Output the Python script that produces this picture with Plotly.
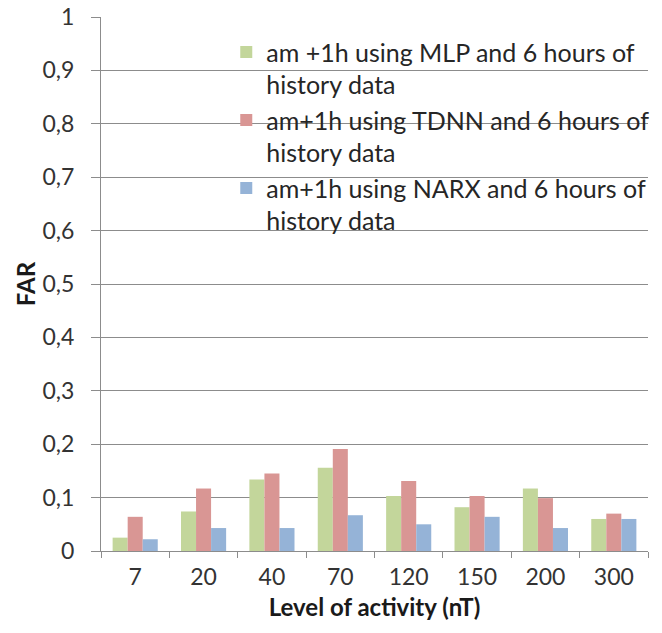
import plotly.graph_objects as go

categories = ["7", "20", "40", "70", "120", "150", "200", "300"]
mlp = [0.025, 0.074, 0.134, 0.156, 0.103, 0.082, 0.117, 0.060]
tdnn = [0.064, 0.117, 0.145, 0.191, 0.131, 0.103, 0.099, 0.070]
narx = [0.022, 0.043, 0.043, 0.067, 0.050, 0.064, 0.043, 0.060]
series_names = [
    "am +1h using MLP and 6 hours of<br>history data",
    "am+1h using TDNN and 6 hours of<br>history data",
    "am+1h using NARX and 6 hours of<br>history data",
]
colors = ["#C3D69B", "#D99694", "#95B3D7"]
y_tickvals = [0, 0.1, 0.2, 0.3, 0.4, 0.5, 0.6, 0.7, 0.8, 0.9, 1.0]
y_ticktext = ["0", "0,1", "0,2", "0,3", "0,4", "0,5", "0,6", "0,7", "0,8", "0,9", "1"]

FONT = "Lato"
grid = "#8c8c8c"

fig = go.Figure()
for name, vals, col in zip(series_names, [mlp, tdnn, narx], colors):
    fig.add_trace(go.Bar(x=categories, y=vals, name=name, marker_color=col,
                         marker_line_width=0))

fig.update_layout(
    width=662, height=633,
    margin=dict(l=101, r=14, t=17, b=82, autoexpand=False),
    plot_bgcolor="white", paper_bgcolor="white",
    bargap=0.34, bargroupgap=0,
    font=dict(family=FONT, color="#333333", size=22),
    legend=dict(x=0.229, y=0.977, xanchor="left", yanchor="top", valign="top",
                bgcolor="rgba(0,0,0,0)", font=dict(size=25, color="#262626"),
                tracegroupgap=0, itemwidth=30),
    showlegend=True,
)
fig.update_yaxes(range=[0, 1], tickvals=y_tickvals, ticktext=y_ticktext,
                 automargin=False,
                 showgrid=True, gridcolor=grid, gridwidth=1,
                 showline=True, linecolor=grid, linewidth=1,
                 ticks="outside", ticklen=9, tickcolor=grid,
                 zeroline=False, ticklabelstandoff=12,
                 tickfont=dict(size=23, color="#333333"),
                 title=dict(text="<b>FAR</b>", font=dict(size=24, color="#1a1a1a"), standoff=0))
fig.update_xaxes(type="category", tickson="boundaries", automargin=False,
                 showline=True, linecolor=grid, linewidth=1,
                 ticks="outside", ticklen=6, tickcolor=grid,
                 showgrid=False, ticklabelstandoff=5,
                 tickfont=dict(size=23, color="#333333"),
                 title=dict(text="<b>Level of activity (nT)</b>", font=dict(size=24, color="#1a1a1a"), standoff=10))

# remove the default 8px page margin so the figure sits at the window origin
fig.write_html("out.html", config={"displayModeBar": False},
               post_script="document.body.style.margin='0';")
